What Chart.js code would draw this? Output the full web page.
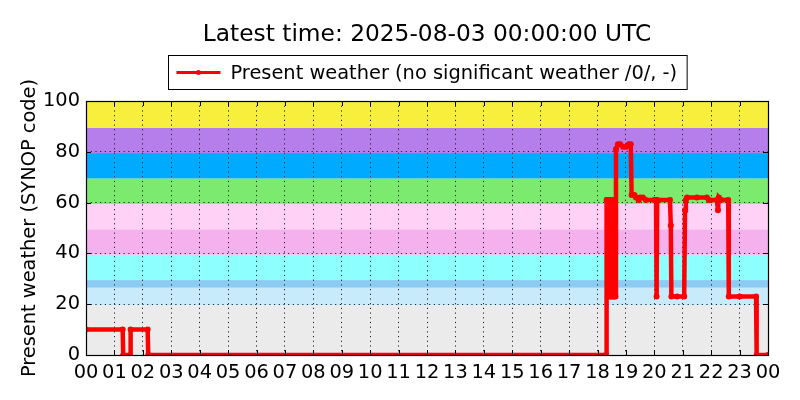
<!DOCTYPE html>
<html>
<head>
<meta charset="utf-8">
<script src="https://cdn.jsdelivr.net/npm/chart.js@4"></script>
<style>
html,body{margin:0;padding:0;background:#fff;}
#wrap{width:800px;height:400px;}
</style>
</head>
<body>
<div id="wrap"><canvas id="c" width="800" height="400"></canvas></div>
<script>
// ---- data ----
const titleText = 'Latest time: 2025-08-03 00:00:00 UTC';
const seriesLabel = 'Present weather (no significant weather /0/, -)';
const yAxisTitle = 'Present weather (SYNOP code)';
const tickLabels = ['00','01','02','03','04','05','06','07','08','09','10','11','12',
                    '13','14','15','16','17','18','19','20','21','22','23','00'];
// time of observation in hours since 00 UTC
const times = [0.00, 1.29, 1.31, 1.55, 1.57, 2.17, 2.19,
  18.30, 18.32, 18.35, 18.36, 18.38, 18.40, 18.43, 18.44, 18.46, 18.48, 18.51, 18.53, 18.56, 18.60, 18.63,
  18.65, 18.72, 18.80, 18.90, 19.00, 19.10, 19.17, 19.20, 19.30, 19.35, 19.45, 19.50, 19.60, 19.70,
  20.00, 20.06, 20.08, 20.10, 20.55, 20.58, 20.60, 20.80, 21.05, 21.08, 21.11, 21.15, 21.50, 21.85,
  21.92, 22.20, 22.24, 22.27, 22.35, 22.60, 22.62, 23.00, 23.58, 23.60, 24.00];
const values = [10, 10, 0, 0, 10, 10, 0,
  0, 61, 61, 23, 61, 61, 23, 61, 61, 23, 23, 61, 23, 23, 23,
  81, 83, 83, 82, 82, 83, 83, 63, 63, 62, 61, 62, 62, 61,
  61, 61, 23, 61, 61, 51, 23, 23, 23, 57, 61, 62, 62, 62,
  61, 61, 57, 62, 61, 61, 23, 23, 23, 0, 0];
// background SYNOP code bands
const bandLower = [0, 19.5, 26.5, 29.5, 39.5, 49.5, 59.5, 69.5, 79.5, 89.5];
const bandUpper = [19.5, 26.5, 29.5, 39.5, 49.5, 59.5, 69.5, 79.5, 89.5, 100];
const bandColors = ['#ebebeb','#c8ebfc','#8ccbf3','#8effff','#f5b1ee','#ffd1f7','#7bea6f','#00aaff','#b57eea','#f8ef3c'];

const points = times.map((t, i) => ({x: t, y: values[i]}));
const FONT = 'DejaVu Sans';

const bandsPlugin = {
  id: 'bands',
  beforeDraw(chart) {
    const {ctx, chartArea: a, scales: {y}} = chart;
    ctx.save();
    for (let i = 0; i < bandLower.length; i++) {
      const y0 = y.getPixelForValue(bandLower[i]);
      const y1 = y.getPixelForValue(bandUpper[i]);
      ctx.fillStyle = bandColors[i];
      ctx.fillRect(a.left, y1, a.right - a.left, y0 - y1);
    }
    ctx.restore();
  },
  afterDatasetsDraw(chart) {
    const {ctx, chartArea: a, scales: {x, y}} = chart;
    ctx.save();
    ctx.strokeStyle = '#000';
    ctx.lineWidth = 1;
    ctx.beginPath();
    x.ticks.forEach(t => {
      const px = Math.round(x.getPixelForValue(t.value)) + 0.5;
      ctx.moveTo(px, a.bottom); ctx.lineTo(px, a.bottom - 5);
      ctx.moveTo(px, a.top); ctx.lineTo(px, a.top + 5);
    });
    y.ticks.forEach(t => {
      const py = Math.round(y.getPixelForValue(t.value)) + 0.5;
      ctx.moveTo(a.left, py); ctx.lineTo(a.left + 5, py);
      ctx.moveTo(a.right, py); ctx.lineTo(a.right - 5, py);
    });
    ctx.stroke();
    ctx.lineWidth = 1.2;
    ctx.strokeRect(Math.round(a.left) + 0.5, Math.round(a.top) + 0.5,
                   Math.round(a.right - a.left), Math.round(a.bottom - a.top));
    ctx.restore();
  },
  afterDraw(chart) {
    const {ctx, chartArea: a} = chart;
    const cx = (a.left + a.right) / 2;
    ctx.save();
    ctx.fillStyle = '#000';
    ctx.textAlign = 'center';
    ctx.textBaseline = 'middle';
    ctx.font = '23.3px "' + FONT + '"';
    ctx.fillText(titleText, cx, 35);
    // y axis title
    ctx.save();
    ctx.translate(30, (a.top + a.bottom) / 2);
    ctx.rotate(-Math.PI / 2);
    ctx.font = '19.4px "' + FONT + '"';
    ctx.fillText(yAxisTitle, 0, 0);
    ctx.restore();
    // legend
    ctx.font = '19.4px "' + FONT + '"';
    const tw = ctx.measureText(seriesLabel).width;
    const boxW = tw + 72;
    const bx = Math.round(cx - boxW / 2) + 0.5;
    const by = 55.5, bh = 34;
    ctx.fillStyle = '#fff';
    ctx.fillRect(bx, by, boxW, bh);
    ctx.strokeStyle = '#000';
    ctx.lineWidth = 1;
    ctx.strokeRect(bx, by, boxW, bh);
    const ly = by + bh / 2;
    ctx.strokeStyle = '#ff0000';
    ctx.lineWidth = 3;
    ctx.beginPath();
    ctx.moveTo(bx + 8, ly); ctx.lineTo(bx + 52, ly);
    ctx.stroke();
    ctx.fillStyle = '#ff0000';
    ctx.beginPath(); ctx.arc(bx + 30, ly, 2.5, 0, Math.PI * 2); ctx.fill();
    ctx.fillStyle = '#000';
    ctx.textAlign = 'left';
    ctx.fillText(seriesLabel, bx + 62, ly + 1);
    ctx.restore();
  }
};

new Chart(document.getElementById('c'), {
  type: 'line',
  data: {
    datasets: [{
      label: seriesLabel,
      data: points,
      borderColor: '#ff0000',
      backgroundColor: '#ff0000',
      borderWidth: 4.5,
      pointRadius: 3,
      pointHoverRadius: 3,
      pointBorderWidth: 0,
      tension: 0,
      clip: 0,
      fill: false
    }]
  },
  options: {
    responsive: false,
    animation: false,
    events: [],
    layout: {padding: {top: 101, right: 32, bottom: 0, left: 0}},
    plugins: {legend: {display: false}, title: {display: false}, tooltip: {enabled: false}},
    scales: {
      x: {
        type: 'linear', min: 0, max: 24,
        border: {display: false, dash: [1.2, 3.5]},
        grid: {color: '#222', lineWidth: 1, drawTicks: false},
        afterFit(scale) { scale.height = 45; },
        ticks: {stepSize: 1, autoSkip: false, maxRotation: 0, minRotation: 0, padding: 6, color: '#000',
                font: {family: FONT, size: 19.4},
                callback: (v) => tickLabels[v]}
      },
      y: {
        min: 0, max: 100,
        border: {display: false, dash: [1.2, 3.5]},
        grid: {color: '#222', lineWidth: 1, drawTicks: false},
        afterFit(scale) { scale.width = 86; },
        ticks: {stepSize: 20, padding: 6, color: '#000', font: {family: FONT, size: 19.4}}
      }
    }
  },
  plugins: [bandsPlugin]
});
</script>
</body>
</html>
